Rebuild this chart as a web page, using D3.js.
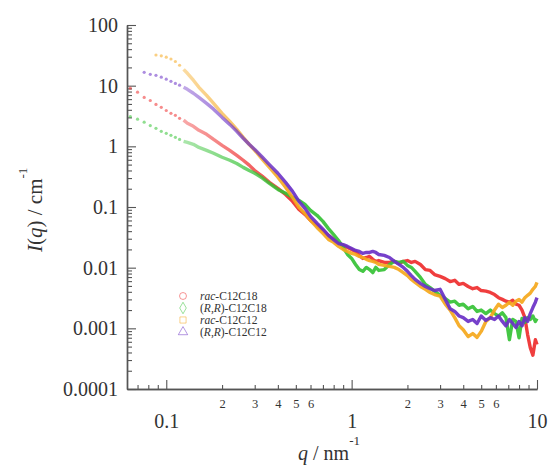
<!DOCTYPE html>
<html>
<head>
<meta charset="utf-8">
<script src="https://cdn.jsdelivr.net/npm/d3@7"></script>
<style>
body { margin: 0; background: #fff; }
svg text { font-family: "Liberation Serif", Tinos, "Times New Roman", Times, "DejaVu Serif", serif; fill: #333; }
</style>
</head>
<body>
<script>
// scattering vector q (nm^-1), shared by the four curves
let q = [0.064, 0.070, 0.076, 0.082, 0.088, 0.094, 0.100, 0.106, 0.112, 0.118, 0.124,
  0.13, 0.14, 0.15, 0.165, 0.18, 0.2, 0.22, 0.24, 0.26, 0.28,
  0.3, 0.33, 0.36, 0.4, 0.44, 0.48, 0.52, 0.56, 0.6, 0.65,
  0.7, 0.75, 0.8, 0.85, 0.9, 0.95, 1.0, 1.05, 1.1, 1.15,
  1.2, 1.25, 1.3, 1.35, 1.4, 1.5, 1.6, 1.7, 1.8, 1.9,
  2.0, 2.1, 2.2, 2.35, 2.5, 2.65, 2.8, 3.0, 3.2, 3.4,
  3.6, 3.8, 4.0, 4.25, 4.5, 4.75, 5.0, 5.3, 5.6, 5.9,
  6.2, 6.5, 6.8, 7.1, 7.4, 7.7, 8.0, 8.3, 8.6, 8.9,
  9.2, 9.5, 9.8, 10.0];

// I(q) in cm^-1 for each sample
let racC12C18 = [9.1, 7.8, 6.4, 5.7, 4.9, 4.4, 3.9, 3.5, 3.25, 2.9, 2.7,
  2.4, 2.14, 1.84, 1.58, 1.30, 1.04, 0.86, 0.71, 0.59, 0.49,
  0.40, 0.32, 0.255, 0.203, 0.161, 0.124, 0.091, 0.0755, 0.060, 0.050,
  0.041, 0.034, 0.029, 0.025, 0.0232, 0.0215, 0.020, 0.0185, 0.0159, 0.0142,
  0.0147, 0.0153, 0.0137, 0.0127, 0.0131, 0.0122, 0.0122, 0.0127, 0.0117, 0.0127,
  0.0131, 0.0122, 0.0127, 0.0113, 0.0093, 0.0090, 0.0077, 0.0072, 0.0066, 0.0059,
  0.0062, 0.0053, 0.0055, 0.0049, 0.0045, 0.0047, 0.0042, 0.0041, 0.0039, 0.0036,
  0.0032, 0.0030, 0.0028, 0.0027, 0.0029, 0.0025, 0.0024, 0.0020, 0.0015, 0.00079,
  0.00048, 0.00036, 0.00065, 0.00054];

let rrC12C18 = [3.1, 2.8, 2.5, 2.2, 1.98, 1.77, 1.64, 1.52, 1.41, 1.30, 1.21,
  1.16, 1.08, 0.96, 0.86, 0.77, 0.66, 0.59, 0.52, 0.45, 0.40,
  0.36, 0.30, 0.245, 0.195, 0.168, 0.144, 0.128, 0.110, 0.088, 0.073,
  0.058, 0.044, 0.035, 0.028, 0.0215, 0.0165, 0.0142, 0.0113, 0.0093, 0.0087,
  0.0101, 0.0093, 0.0083, 0.0101, 0.0090, 0.0093, 0.0113, 0.0127, 0.0122, 0.0127,
  0.0109, 0.0101, 0.0087, 0.0069, 0.0053, 0.0047, 0.0041, 0.0035, 0.0031, 0.0027,
  0.0028, 0.0024, 0.0025, 0.0021, 0.0023, 0.0019, 0.0020, 0.00175, 0.0020, 0.00175,
  0.0016, 0.0018, 0.0015, 0.00065, 0.0014, 0.0013, 0.0007, 0.00145, 0.00125, 0.0015,
  0.0014, 0.0016, 0.0013, 0.00145];

let racC12C12 = [null, null, null, null, 32, 31, 29.5, 27.5, 25, 21.7, 18.6,
  16.0, 12.3, 9.4, 6.9, 5.1, 3.5, 2.58, 1.91, 1.41, 1.08,
  0.86, 0.61, 0.45, 0.31, 0.211, 0.144, 0.099, 0.078, 0.060, 0.046,
  0.0367, 0.0292, 0.0261, 0.0224, 0.020, 0.0185, 0.0172, 0.0165, 0.0153, 0.0147,
  0.0137, 0.0131, 0.0127, 0.0122, 0.0113, 0.0109, 0.0105, 0.0101, 0.0093, 0.0083,
  0.0074, 0.0064, 0.0057, 0.0049, 0.0044, 0.0039, 0.0036, 0.0034, 0.0025, 0.0020,
  0.0015, 0.0011, 0.00095, 0.00073, 0.00082, 0.00071, 0.00089, 0.0013, 0.0015, 0.0020,
  0.0025, 0.0022, 0.0024, 0.0027, 0.0024, 0.0028, 0.0030, 0.0027, 0.0032, 0.0035,
  0.0038, 0.0044, 0.0049, 0.0057];

let rrC12C12 = [null, null, 16.6, 15.4, 14.8, 13.8, 12.8, 11.8, 10.9, 10.2, 9.4,
  8.7, 7.5, 6.4, 5.1, 4.1, 3.0, 2.3, 1.77, 1.36, 1.08,
  0.89, 0.66, 0.50, 0.36, 0.255, 0.181, 0.124, 0.095, 0.070, 0.054,
  0.043, 0.034, 0.029, 0.025, 0.024, 0.0224, 0.0207, 0.0192, 0.0185, 0.0172,
  0.0178, 0.0178, 0.0185, 0.0178, 0.0165, 0.0159, 0.0147, 0.0127, 0.0113, 0.0101,
  0.0087, 0.0074, 0.0064, 0.0055, 0.0049, 0.0045, 0.0042, 0.0044, 0.0030, 0.0021,
  0.0019, 0.0016, 0.0015, 0.0013, 0.0014, 0.0012, 0.0016, 0.00135, 0.0015, 0.0014,
  0.0016, 0.0013, 0.0011, 0.0014, 0.0012, 0.00103, 0.0013, 0.0011, 0.0015, 0.0013,
  0.00175, 0.0022, 0.0027, 0.0032];

// tick labels
let yMajor = [0.0001, 0.001, 0.01, 0.1, 1, 10, 100];
let yMajorLabels = ["0.0001", "0.001", "0.01", "0.1", "1", "10", "100"];
let xMajor = [0.1, 1, 10];
let xMajorLabels = ["0.1", "1", "10"];
let xMinorLabelled = [0.2, 0.3, 0.4, 0.5, 0.6, 2, 3, 4, 5, 6];
let xMinorLabels = ["2", "3", "4", "5", "6", "2", "3", "4", "5", "6"];

// legend names, split into [text, italic] pieces
let series = [
  {key: "rac18", values: racC12C18, color: "#ee2d2d", symbol: d3.symbolCircle,
   label: [["rac", true], ["-C12C18", false]]},
  {key: "rr18", values: rrC12C18, color: "#35c235", symbol: d3.symbolDiamond,
   label: [["(", false], ["R", true], [",", false], ["R", true], [")-C12C18", false]]},
  {key: "rac12", values: racC12C12, color: "#f5a81c", symbol: d3.symbolSquare,
   label: [["rac", true], ["-C12C12", false]]},
  {key: "rr12", values: rrC12C12, color: "#6a30c6", symbol: d3.symbolTriangle,
   label: [["(", false], ["R", true], [",", false], ["R", true], [")-C12C12", false]]}
];

let serif = "'Liberation Serif', Tinos, 'Times New Roman', Times, 'DejaVu Serif', serif";

let margin = {top: 25, right: 12, bottom: 77, left: 127};
let width = 549 - margin.left - margin.right;
let height = 466 - margin.top - margin.bottom;

let root = d3.select("body").append("svg")
  .attr("width", 549)
  .attr("height", 466)
  .style("font-family", serif);
let svg = root.append("g")
  .attr("transform", "translate(" + margin.left + "," + margin.top + ")");

let x = d3.scaleLog().domain([0.0614, 10]).range([0, width]);
let y = d3.scaleLog().domain([0.0001, 100]).range([height, 0]);

// minor tick positions, 2..9 in each decade
let yMinor = [];
yMajor.slice(0, -1).forEach(function(d) {
  for (let k = 2; k <= 9; k++) yMinor.push(k * d);
});
let xMinor = [0.07, 0.08, 0.09];
[0.1, 1].forEach(function(d) {
  for (let k = 2; k <= 9; k++) xMinor.push(k * d);
});

function styleAxis(g) {
  g.attr("font-family", serif).attr("font-size", null);
  g.select(".domain").attr("stroke", "#555").attr("stroke-width", 1.4);
  g.selectAll(".tick line").attr("stroke", "#555").attr("stroke-width", 1.1);
  g.selectAll(".tick text").attr("fill", "#333").style("font-family", serif);
}

// y axis: minor then major ticks, pointing inward
svg.append("g")
  .call(d3.axisLeft(y).tickValues(yMinor).tickSize(-5).tickSizeOuter(0).tickFormat(""))
  .call(styleAxis);
svg.append("g")
  .call(d3.axisLeft(y).tickValues(yMajor).tickSize(-9).tickSizeOuter(0).tickPadding(9)
    .tickFormat(function(d) { return yMajorLabels[yMajor.indexOf(d)]; }))
  .call(styleAxis)
  .selectAll(".tick text").attr("font-size", 20);

// x axis
svg.append("g")
  .attr("transform", "translate(0," + height + ")")
  .call(d3.axisBottom(x).tickValues(xMinor).tickSize(-4).tickSizeOuter(0).tickPadding(10)
    .tickFormat(function(d) {
      let i = xMinorLabelled.findIndex(function(v) { return Math.abs(v - d) < 1e-9; });
      return i < 0 ? "" : xMinorLabels[i];
    }))
  .call(styleAxis)
  .selectAll(".tick text").attr("font-size", 12.5);
svg.append("g")
  .attr("transform", "translate(0," + height + ")")
  .call(d3.axisBottom(x).tickValues(xMajor).tickSize(-9).tickSizeOuter(0).tickPadding(25)
    .tickFormat(function(d) { return xMajorLabels[xMajor.indexOf(d)]; }))
  .call(styleAxis)
  .selectAll(".tick text").attr("font-size", 20);

// faint at low q, full colour where the points get dense
let defs = svg.append("defs");
series.forEach(function(s) {
  let g = defs.append("linearGradient")
    .attr("id", "fade-" + s.key)
    .attr("gradientUnits", "userSpaceOnUse")
    .attr("x1", x(0.12)).attr("x2", x(0.45)).attr("y1", 0).attr("y2", 0);
  g.append("stop").attr("offset", 0).attr("stop-color", s.color).attr("stop-opacity", 0.4);
  g.append("stop").attr("offset", 1).attr("stop-color", s.color).attr("stop-opacity", 0.92);
});

let lineStart = 0.124;
let valueline = d3.line()
  .x(function(d) { return x(d.q); })
  .y(function(d) { return y(d.v); });

series.forEach(function(s) {
  let pts = q.map(function(qq, i) { return {q: qq, v: s.values[i]}; })
    .filter(function(d) { return d.v != null; });

  svg.append("path")
    .datum(pts.filter(function(d) { return d.q >= lineStart; }))
    .attr("fill", "none")
    .attr("stroke", "url(#fade-" + s.key + ")")
    .attr("stroke-width", 3.4)
    .attr("stroke-linejoin", "round")
    .attr("d", valueline);

  // sparse points at low q show up as separate small markers
  svg.selectAll(".pt-" + s.key)
    .data(pts.filter(function(d) { return d.q < lineStart; }))
    .enter().append("circle")
    .attr("cx", function(d) { return x(d.q); })
    .attr("cy", function(d) { return y(d.v); })
    .attr("r", 1.6)
    .attr("fill", s.color)
    .attr("fill-opacity", 0.55);
});

// legend
let legend = root.append("g").attr("transform", "translate(183,296)");
series.forEach(function(s, i) {
  let row = legend.append("g").attr("transform", "translate(0," + (i * 12) + ")");
  row.append("path")
    .attr("d", d3.symbol().type(s.symbol).size(38))
    .attr("fill", "none")
    .attr("stroke", s.color)
    .attr("stroke-opacity", 0.5)
    .attr("stroke-width", 1);
  let t = row.append("text").attr("x", 17).attr("y", 4).attr("font-size", 11.5)
    .style("font-family", serif);
  s.label.forEach(function(p) {
    t.append("tspan").attr("font-style", p[1] ? "italic" : null).text(p[0]);
  });
});

// axis titles
let xt = root.append("text").attr("x", 298).attr("y", 460).attr("font-size", 20)
  .style("font-family", serif);
xt.append("tspan").attr("font-style", "italic").text("q");
xt.append("tspan").text(" / nm");
xt.append("tspan").attr("font-size", 13).attr("dy", -15).text("-1");

let yt = root.append("text")
  .attr("transform", "translate(42,252) rotate(-90)")
  .attr("font-size", 21)
  .style("font-family", serif);
yt.append("tspan").attr("font-style", "italic").text("I");
yt.append("tspan").text("(");
yt.append("tspan").attr("font-style", "italic").text("q");
yt.append("tspan").text(") / cm");
yt.append("tspan").attr("font-size", 13).attr("dy", -15).text("-1");
</script>
</body>
</html>
